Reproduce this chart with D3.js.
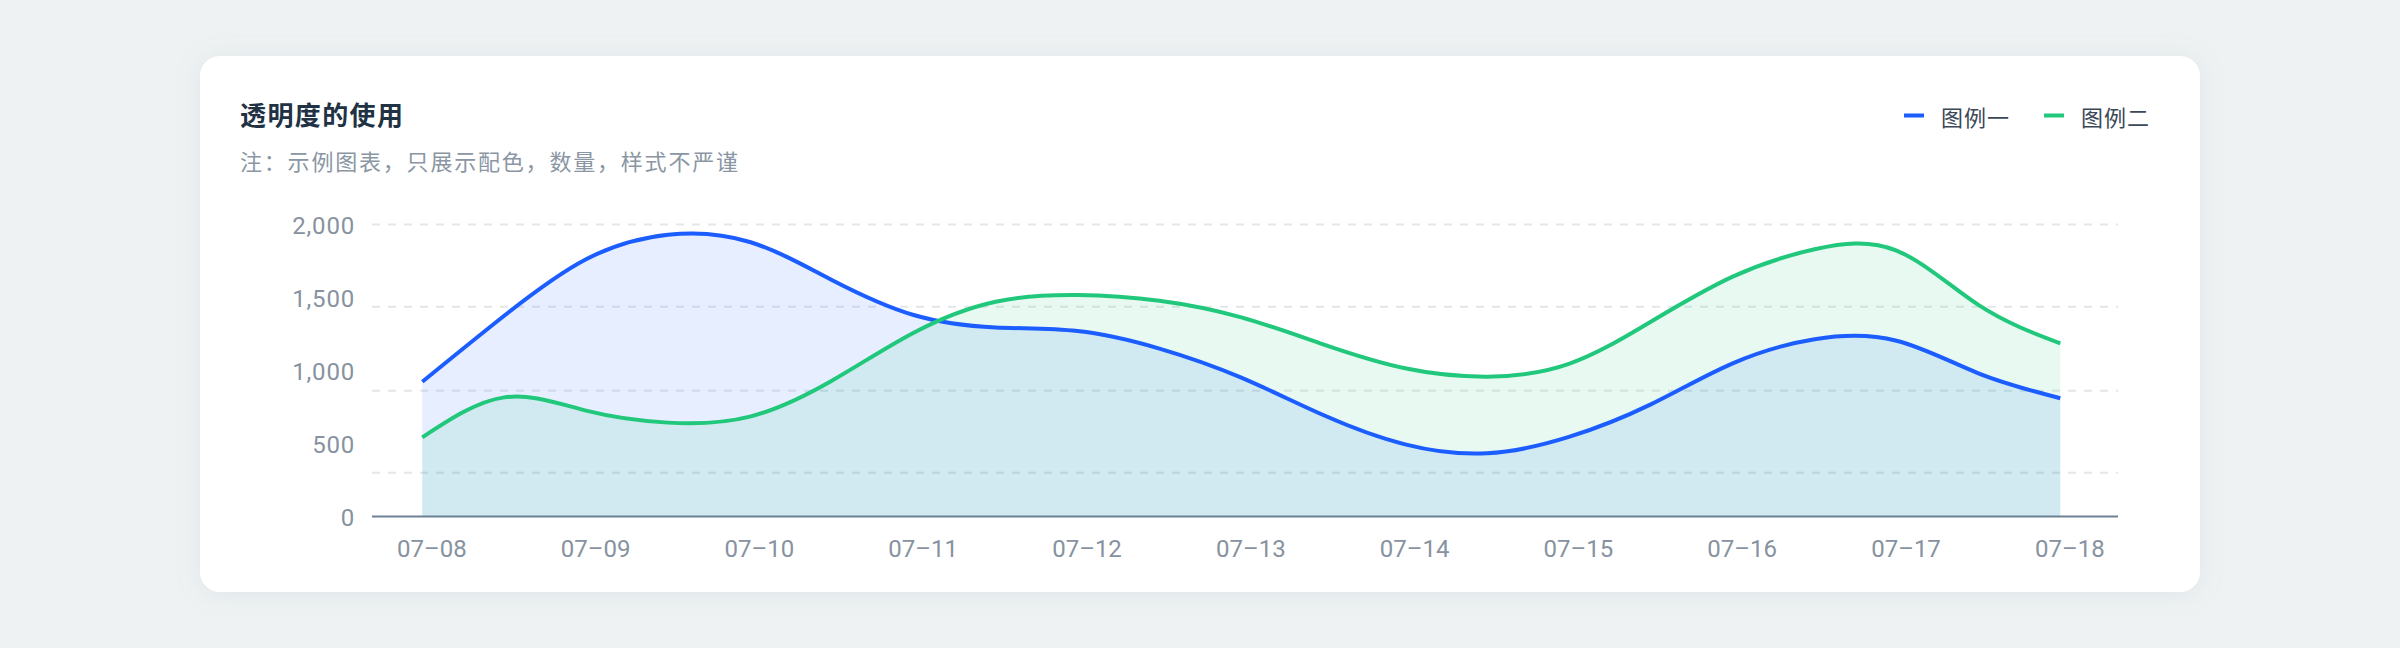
<!DOCTYPE html>
<html>
<head>
<meta charset="utf-8">
<script src="https://cdn.jsdelivr.net/npm/d3@7"></script>
<style>
  html, body { margin: 0; padding: 0; background: #eef2f3; }
  svg { display: block; }
</style>
</head>
<body>
<svg id="chart" width="2400" height="648"></svg>
<script>
// ---------------- data ----------------
const chartTitle = "透明度的使用";
const chartNote = "注：示例图表，只展示配色，数量，样式不严谨";
const seriesNames = ["图例一", "图例二"];
const categories = ["07-08", "07-09", "07-10", "07-11", "07-12", "07-13", "07-14", "07-15", "07-16", "07-17", "07-18"];
const tickLabels = ["07–08", "07–09", "07–10", "07–11", "07–12", "07–13", "07–14", "07–15", "07–16", "07–17", "07–18"];
// readings taken every 12 hours
const sampleTimes = [
  "07-08 00:00", "07-08 12:00", "07-09 00:00", "07-09 12:00", "07-10 00:00", "07-10 12:00",
  "07-11 00:00", "07-11 12:00", "07-12 00:00", "07-12 12:00", "07-13 00:00", "07-13 12:00",
  "07-14 00:00", "07-14 12:00", "07-15 00:00", "07-15 12:00", "07-16 00:00", "07-16 12:00",
  "07-17 00:00", "07-17 12:00", "07-18 00:00"
];
const series1Values = [923, 1375, 1762, 1930, 1880, 1620, 1380, 1295, 1270, 1150, 951, 695, 494, 433, 545, 768, 1049, 1214, 1204, 981, 810];
const series2Values = [542, 816, 725, 643, 684, 930, 1259, 1471, 1517, 1478, 1364, 1179, 1015, 958, 1045, 1334, 1643, 1830, 1821, 1449, 1186];
const yTickValues = [0, 500, 1000, 1500, 2000];
const gridValues = [300, 862, 1437, 2000];

// ---------------- styles / layout ----------------
const colors = ["#1b5dff", "#21c87c"];
const W = 2400, H = 648;
const card = { x: 200, y: 56, w: 2000, h: 536, r: 20 };
const plot = { left: 372, right: 2118, x0: 422.3, x1: 2060.3, top: 224.5, bottom: 516.5 };
const cjk = "'Noto Sans CJK SC', 'Noto Sans', sans-serif";
const num = "Roboto, 'Noto Sans', sans-serif";

const svg = d3.select("#chart");
const defs = svg.append("defs");
const f = defs.append("filter").attr("id", "shadow")
  .attr("x", "-5%").attr("y", "-10%").attr("width", "110%").attr("height", "125%");
f.append("feDropShadow").attr("dx", 0).attr("dy", 2).attr("stdDeviation", 12)
  .attr("flood-color", "#8e9ba8").attr("flood-opacity", 0.16);

svg.append("rect").attr("width", W).attr("height", H).attr("fill", "#eef2f3");
svg.append("rect")
  .attr("x", card.x).attr("y", card.y).attr("width", card.w).attr("height", card.h)
  .attr("rx", card.r).attr("ry", card.r).attr("fill", "#ffffff").attr("filter", "url(#shadow)");

// title & note
svg.append("text").text(chartTitle)
  .attr("x", 240).attr("y", 113).attr("dominant-baseline", "central")
  .attr("font-family", cjk).attr("font-size", 26).attr("font-weight", 600)
  .attr("letter-spacing", 1.4).attr("fill", "#213244");
svg.append("text").text(chartNote)
  .attr("x", 240).attr("y", 160).attr("dominant-baseline", "central")
  .attr("font-family", cjk).attr("font-size", 22).attr("font-weight", 400)
  .attr("letter-spacing", 1.8).attr("fill", "#8a96a3");

// legend
const legendPos = [1904, 2044];
const lg = svg.append("g");
seriesNames.forEach((name, i) => {
  lg.append("rect").attr("x", legendPos[i]).attr("y", 113.5).attr("width", 20).attr("height", 4)
    .attr("fill", colors[i]);
  lg.append("text").text(name)
    .attr("x", legendPos[i] + 37).attr("y", 116).attr("dominant-baseline", "central")
    .attr("font-family", cjk).attr("font-size", 22).attr("letter-spacing", 1)
    .attr("fill", "#3b4858");
});

// scales
const parse = d3.timeParse("%m-%d %H:%M");
const times = sampleTimes.map(parse);
const dayDates = categories.map(c => parse(c + " 00:00"));
const x = d3.scaleTime().domain([dayDates[0], dayDates[dayDates.length - 1]]).range([plot.x0, plot.x1]);
const y = d3.scaleLinear().domain([0, 2000]).range([plot.bottom, plot.top]);

// grid
svg.append("g").selectAll("line").data(gridValues).join("line")
  .attr("x1", plot.left).attr("x2", plot.right)
  .attr("y1", d => y(d)).attr("y2", d => y(d))
  .attr("stroke", "#e3e6ea").attr("stroke-width", 2).attr("stroke-dasharray", "8,8");

// areas and lines
const curve = d3.curveNatural;
const allSeries = [series1Values, series2Values];
const area = d3.area().x((d, i) => x(times[i])).y0(y(0)).y1(d => y(d)).curve(curve);
const line = d3.line().x((d, i) => x(times[i])).y(d => y(d)).curve(curve);

svg.append("g").selectAll("path").data(allSeries).join("path")
  .attr("d", d => area(d)).attr("fill", (d, i) => colors[i]).attr("fill-opacity", 0.105);

// axis baseline
svg.append("line").attr("x1", plot.left).attr("x2", plot.right)
  .attr("y1", y(0)).attr("y2", y(0)).attr("stroke", "#6c8196").attr("stroke-width", 2);

svg.append("g").selectAll("path").data(allSeries).join("path")
  .attr("d", d => line(d)).attr("fill", "none")
  .attr("stroke", (d, i) => colors[i]).attr("stroke-width", 4).attr("stroke-linejoin", "round");

// y axis labels
const yAxis = svg.append("g").attr("transform", "translate(355,0)")
  .call(d3.axisLeft(y).tickValues(yTickValues).tickFormat(d3.format(",")).tickSize(0).tickPadding(0));
yAxis.select(".domain").remove();
yAxis.selectAll("text")
  .attr("font-family", num).attr("font-size", 24).attr("letter-spacing", 0.8)
  .attr("fill", "#8792a0").attr("dy", "0.36em").attr("x", 0);

// x axis labels
const xAxis = svg.append("g").attr("transform", "translate(0,548)")
  .call(d3.axisBottom(x).tickValues(dayDates).tickFormat((d, i) => tickLabels[i]).tickSize(0).tickPadding(0));
xAxis.select(".domain").remove();
xAxis.selectAll("text")
  .attr("font-family", num).attr("font-size", 24)
  .attr("fill", "#8792a0").attr("y", 0).attr("dy", "0.36em").attr("dx", 9);
</script>
</body>
</html>
